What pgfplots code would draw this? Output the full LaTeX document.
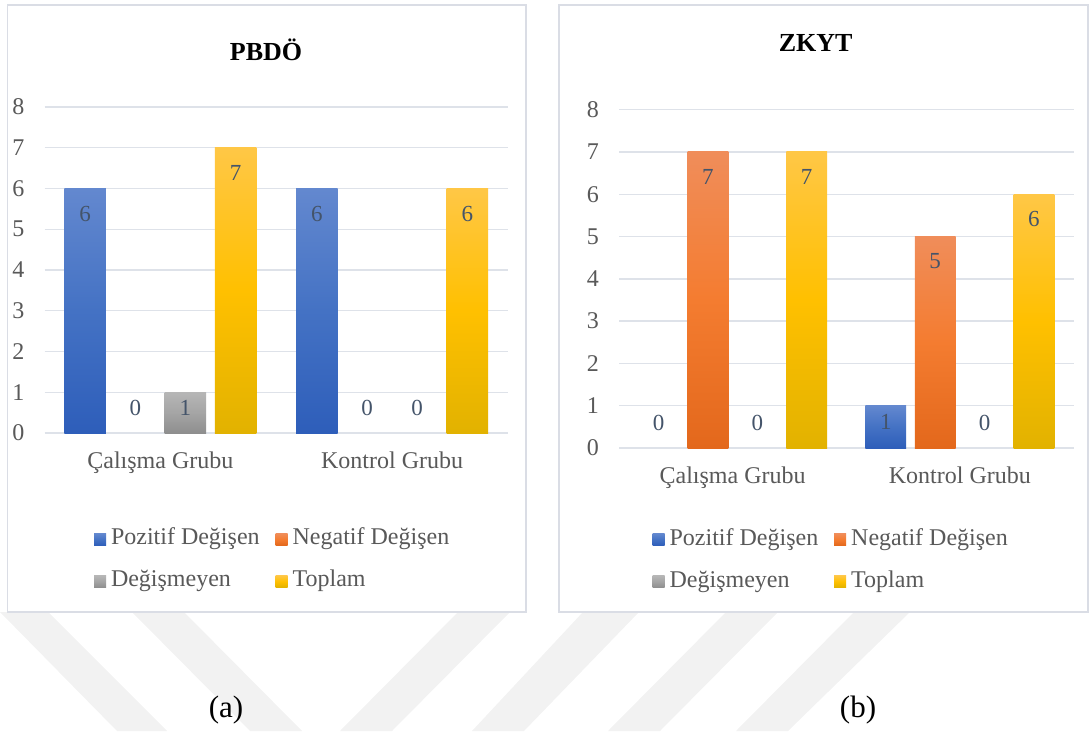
\documentclass[border=0pt]{standalone}
\usepackage{pgfplots}
\pgfplotsset{compat=1.18}
\usepackage{fontspec}
\setmainfont{Liberation Serif}
\definecolor{lbl}{HTML}{595959}
\definecolor{dlbl}{HTML}{44546A}
\definecolor{gridc}{HTML}{DEE2E9}
\definecolor{boxc}{HTML}{DADDE5}
\definecolor{wm}{HTML}{F2F2F2}
\definecolor{bT}{HTML}{6388CF}\definecolor{bM}{HTML}{4472C4}\definecolor{bB}{HTML}{2E5EBA}
\definecolor{oT}{HTML}{F08D5A}\definecolor{oM}{HTML}{F47C30}\definecolor{oB}{HTML}{E3681C}
\definecolor{gT}{HTML}{B6B6B6}\definecolor{gM}{HTML}{A5A5A5}\definecolor{gB}{HTML}{8E8E8E}
\definecolor{yT}{HTML}{FFC746}\definecolor{yM}{HTML}{FFC000}\definecolor{yB}{HTML}{E2B200}
\pgfplotsset{
  blueS/.style={draw=none, top color=bT, bottom color=bB, middle color=bM},
  orS/.style={draw=none, top color=oT, bottom color=oB, middle color=oM},
  grS/.style={draw=none, top color=gT, bottom color=gB, middle color=gM},
  yeS/.style={draw=none, top color=yT, bottom color=yB, middle color=yM},
  lbtop/.style={nodes near coords, nodes near coords style={yshift=-25pt, xshift=#1}},
  lbone/.style={nodes near coords, nodes near coords style={yshift=-16pt, xshift=#1}},
  lbzero/.style={draw=none, fill=none, nodes near coords, nodes near coords style={yshift=25pt, xshift=#1}},
  common/.style={
    scale only axis, clip=false,
    anchor=south west,
    ymin=0, ymax=8, ytick={0,1,...,8},
    xmin=-0.5, xmax=1.5, xtick={0,1},
    xticklabels={Çalışma Grubu, Kontrol Grubu},
    axis line style={draw=none},
    major tick length=0pt, tick style={draw=none},
    ymajorgrids, major grid style={gridc, line width=1.4pt},
    tick label style={font=\fontsize{24}{28}\selectfont, text=lbl},
    yticklabel style={anchor=east, inner sep=0pt},
    xticklabel style={anchor=base, inner sep=0pt, yshift=-35pt},
    /pgf/number format/assume math mode=true,
    every node near coord/.append style={anchor=center, font=\fontsize{23}{27}\selectfont, text=dlbl},
    title style={anchor=center, font=\bfseries\fontsize{26}{30}\selectfont, text=black},
    legend columns=2,
    legend cell align=left,
    legend style={draw=none, fill=none, anchor=north west, inner sep=0pt, outer sep=0pt,
      font=\fontsize{24}{28}\selectfont, text=lbl, row sep=19pt, column sep=5pt,
      /tikz/every even column/.append style={column sep=16pt},
      nodes={inner sep=0pt, text height=17pt, text depth=6pt}},
    legend image code/.code={\path[##1] (0pt,-6pt) rectangle (12pt,6pt);},
  },
}
\begin{document}
\begin{tikzpicture}[x=1pt,y=1pt]
\path[use as bounding box] (0,0) rectangle (1089,731);
% watermark stripes
\fill[wm] (0,119) -- (48,119) -- (167,0) -- (117,0) -- cycle;
\fill[wm] (132,119) -- (184,119) -- (302,0) -- (250,0) -- cycle;
\fill[wm] (458,119) -- (510,119) -- (392,0) -- (340,0) -- cycle;
\fill[wm] (583,119) -- (639,119) -- (524,0) -- (472,0) -- cycle;
\fill[wm] (726,119) -- (778,119) -- (660,0) -- (608,0) -- cycle;
\fill[wm] (854,119) -- (910,119) -- (788,0) -- (736,0) -- cycle;
% panels
\draw[boxc, line width=1.5pt, fill=white] (7.5,119) rectangle (526,726);
\draw[boxc, line width=1.5pt, fill=white] (559,119) rectangle (1088,726);
% captions
\node[font=\fontsize{31}{36}\selectfont] at (226,21) {(a)};
\node[font=\fontsize{31}{36}\selectfont] at (858,21) {(b)};

% ---------------- (a) PBDÖ ----------------
\begin{axis}[common, at={(44.5pt,298pt)}, width=463.5pt, height=326pt,
  title={PBDÖ}, title style={at={(axis description cs:0.478,1.158)}},
  yticklabel style={xshift=-20pt},
  legend style={at={(axis description cs:0.1068,-0.2914)}}]
\addlegendimage{blueS}\addlegendentry{Pozitif Değişen}
\addlegendimage{orS}\addlegendentry{Negatif Değişen}
\addlegendimage{grS}\addlegendentry{Değişmeyen}
\addlegendimage{yeS}\addlegendentry{Toplam}
% Pozitif Değişen
\addplot[ybar, forget plot, bar width=41.5pt, bar shift=-75.3pt, blueS, lbtop=-75.3pt] coordinates {(0,6)};
\addplot[ybar, forget plot, bar width=41.5pt, bar shift=-75.3pt, blueS, lbtop=-75.3pt] coordinates {(1,6)};
% Negatif Değişen
\addplot[ybar, forget plot, bar width=41.5pt, bar shift=-25.1pt, lbzero=-25.1pt] coordinates {(0,0)};
\addplot[ybar, forget plot, bar width=41.5pt, bar shift=-25.1pt, lbzero=-25.1pt] coordinates {(1,0)};
% Değişmeyen
\addplot[ybar, forget plot, bar width=41.5pt, bar shift=25.1pt, grS, lbone=25.1pt] coordinates {(0,1)};
\addplot[ybar, forget plot, bar width=41.5pt, bar shift=25.1pt, lbzero=25.1pt] coordinates {(1,0)};
% Toplam
\addplot[ybar, forget plot, bar width=41.5pt, bar shift=75.3pt, yeS, lbtop=75.3pt] coordinates {(0,7)};
\addplot[ybar, forget plot, bar width=41.5pt, bar shift=75.3pt, yeS, lbtop=75.3pt] coordinates {(1,6)};
\end{axis}

% ---------------- (b) ZKYT ----------------
\begin{axis}[common, at={(619pt,283pt)}, width=454.5pt, height=338.3pt,
  title={ZKYT}, title style={at={(axis description cs:0.4326,1.179)}},
  yticklabel style={xshift=-20pt},
  legend style={at={(axis description cs:0.0739,-0.2365)}}]
\addlegendimage{blueS}\addlegendentry{Pozitif Değişen}
\addlegendimage{orS}\addlegendentry{Negatif Değişen}
\addlegendimage{grS}\addlegendentry{Değişmeyen}
\addlegendimage{yeS}\addlegendentry{Toplam}
% Pozitif Değişen
\addplot[ybar, forget plot, bar width=40.8pt, bar shift=-74.1pt, lbzero=-74.1pt] coordinates {(0,0)};
\addplot[ybar, forget plot, bar width=40.8pt, bar shift=-74.1pt, blueS, lbone=-74.1pt] coordinates {(1,1)};
% Negatif Değişen
\addplot[ybar, forget plot, bar width=40.8pt, bar shift=-24.7pt, orS, lbtop=-24.7pt] coordinates {(0,7)};
\addplot[ybar, forget plot, bar width=40.8pt, bar shift=-24.7pt, orS, lbtop=-24.7pt] coordinates {(1,5)};
% Değişmeyen
\addplot[ybar, forget plot, bar width=40.8pt, bar shift=24.7pt, lbzero=24.7pt] coordinates {(0,0)};
\addplot[ybar, forget plot, bar width=40.8pt, bar shift=24.7pt, lbzero=24.7pt] coordinates {(1,0)};
% Toplam
\addplot[ybar, forget plot, bar width=40.8pt, bar shift=74.1pt, yeS, lbtop=74.1pt] coordinates {(0,7)};
\addplot[ybar, forget plot, bar width=40.8pt, bar shift=74.1pt, yeS, lbtop=74.1pt] coordinates {(1,6)};
\end{axis}
\end{tikzpicture}
\end{document}
